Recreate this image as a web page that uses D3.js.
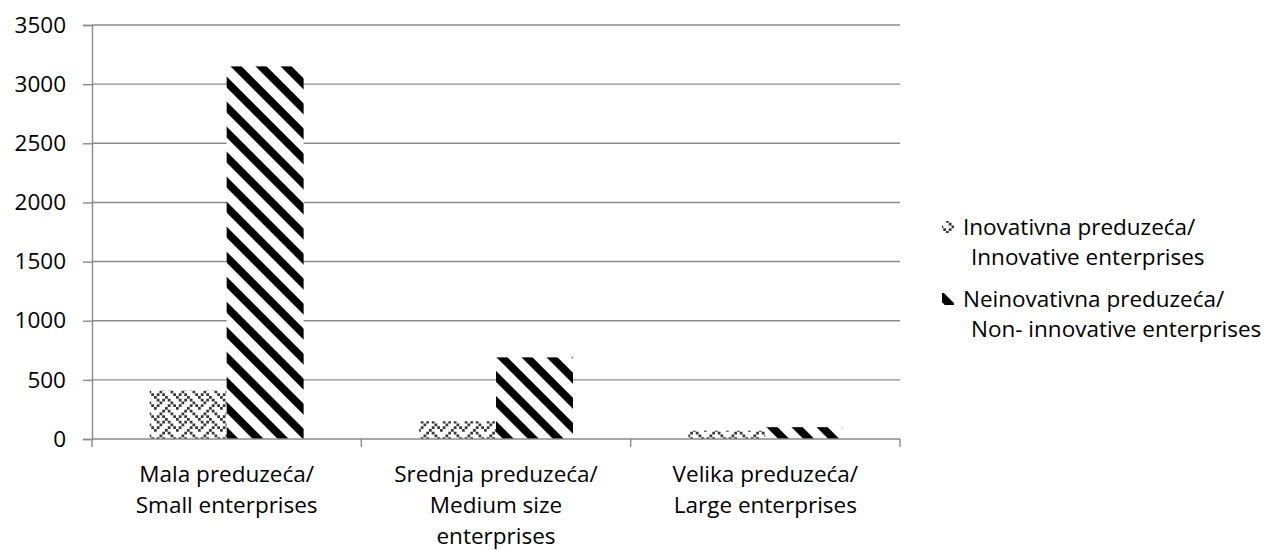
<!DOCTYPE html>
<html>
<head>
<meta charset="utf-8">
<script src="https://cdn.jsdelivr.net/npm/d3@7"></script>
<style>
  body { margin: 0; background: #fff; }
  text { font-family: "Open Sans", sans-serif; fill: #000; }
</style>
</head>
<body>
<div id="chart"></div>
<script>
// chart values
const categories = [
    ["Mala preduzeća/", "Small enterprises"],
    ["Srednja preduzeća/", "Medium size", "enterprises"],
    ["Velika preduzeća/", "Large enterprises"]
];
const seriesNames = [
    ["Inovativna preduzeća/", "Innovative enterprises"],
    ["Neinovativna preduzeća/", "Non- innovative enterprises"]
];
const innovative = [410, 150, 70];
const nonInnovative = [3150, 690, 100];
const yTicks = [0, 500, 1000, 1500, 2000, 2500, 3000, 3500];

const W = 1266, H = 550;
const plotLeft = 92, plotRight = 900, plotTop = 25, plotBottom = 439;
const gridColor = "#8a8a8a";
const fontSize = 22.5;

const svg = d3.select("#chart").append("svg")
    .attr("width", W)
    .attr("height", H);

const defs = svg.append("defs");

// wide downward diagonal stripes
const stripe = defs.append("pattern")
    .attr("id", "stripes")
    .attr("patternUnits", "userSpaceOnUse")
    .attr("width", 17.7)
    .attr("height", 17.7)
    .attr("patternTransform", "rotate(45)");
stripe.append("rect").attr("width", 17.7).attr("height", 17.7).attr("fill", "#fff");
stripe.append("rect").attr("width", 17.7).attr("height", 7.8).attr("fill", "#000");

// weave pattern built from an 8x8 bitmap
const weaveBits = [
    "10001000",
    "01010100",
    "00100010",
    "01000101",
    "10001000",
    "00010100",
    "00100010",
    "01010001"
];
const cell = 2.75;
const weave = defs.append("pattern")
    .attr("id", "weave")
    .attr("patternUnits", "userSpaceOnUse")
    .attr("width", cell * 8)
    .attr("height", cell * 8);
weave.append("rect").attr("width", cell * 8).attr("height", cell * 8).attr("fill", "#fff");
weaveBits.forEach((row, r) => {
    row.split("").forEach((b, c) => {
        if (b === "1") {
            weave.append("rect")
                .attr("x", c * cell).attr("y", r * cell)
                .attr("width", cell).attr("height", cell)
                .attr("fill", "#3a3a3a");
        }
    });
});

const fills = ["url(#weave)", "url(#stripes)"];

const y = d3.scaleLinear().domain([0, 3500]).range([plotBottom, plotTop]);
const x0 = d3.scaleBand().domain(d3.range(categories.length)).range([plotLeft, plotRight]);
const x1 = d3.scaleBand().domain([0, 1]).range([0, x0.bandwidth()]).paddingOuter(0.75);

// gridlines
svg.append("g")
    .selectAll("line")
    .data(yTicks.filter(d => d > 0))
    .enter().append("line")
    .attr("x1", plotLeft).attr("x2", plotRight)
    .attr("y1", d => y(d)).attr("y2", d => y(d))
    .attr("stroke", gridColor)
    .attr("stroke-width", 1.4);

// y axis
const yAxis = svg.append("g")
    .attr("transform", "translate(" + plotLeft + ",0)")
    .call(d3.axisLeft(y).tickValues(yTicks).tickSize(9).tickPadding(17).tickFormat(d3.format("d")));
yAxis.select(".domain").attr("stroke", gridColor).attr("stroke-width", 1.4);
yAxis.selectAll(".tick line").attr("stroke", gridColor).attr("stroke-width", 1.4);
yAxis.selectAll(".tick text")
    .attr("font-size", fontSize)
    .attr("font-family", "'Open Sans', sans-serif")
    .attr("fill", "#000");

// bars
const series = [innovative, nonInnovative];
series.forEach((vals, s) => {
    svg.append("g")
        .selectAll("rect")
        .data(vals)
        .enter().append("rect")
        .attr("x", (d, i) => x0(i) + x1(s))
        .attr("y", d => y(d))
        .attr("width", x1.bandwidth())
        .attr("height", d => plotBottom - y(d))
        .attr("fill", fills[s]);
});

// x axis line and category ticks
svg.append("line")
    .attr("x1", plotLeft).attr("x2", plotRight)
    .attr("y1", plotBottom).attr("y2", plotBottom)
    .attr("stroke", gridColor).attr("stroke-width", 1.4);

const boundaries = d3.range(categories.length + 1).map(i => i < categories.length ? x0(i) : plotRight);
svg.append("g")
    .selectAll("line")
    .data(boundaries)
    .enter().append("line")
    .attr("x1", d => d).attr("x2", d => d)
    .attr("y1", plotBottom).attr("y2", plotBottom + 8)
    .attr("stroke", gridColor).attr("stroke-width", 1.4);

// category labels
categories.forEach((lines, i) => {
    const t = svg.append("text")
        .attr("text-anchor", "middle")
        .attr("font-size", fontSize);
    lines.forEach((l, k) => {
        t.append("tspan")
            .attr("x", x0(i) + x0.bandwidth() / 2)
            .attr("y", 482 + k * 31)
            .text(l);
    });
});

// legend
const legendY = [221, 293];
const legendBase = [235, 307];
seriesNames.forEach((lines, s) => {
    svg.append("rect")
        .attr("x", 942).attr("y", legendY[s])
        .attr("width", 12).attr("height", 12)
        .attr("fill", fills[s]);
    const t = svg.append("text").attr("font-size", fontSize);
    t.append("tspan").attr("x", 963).attr("y", legendBase[s]).text(lines[0]);
    t.append("tspan").attr("x", 971).attr("y", legendBase[s] + 30).text(lines[1]);
});
</script>
</body>
</html>
